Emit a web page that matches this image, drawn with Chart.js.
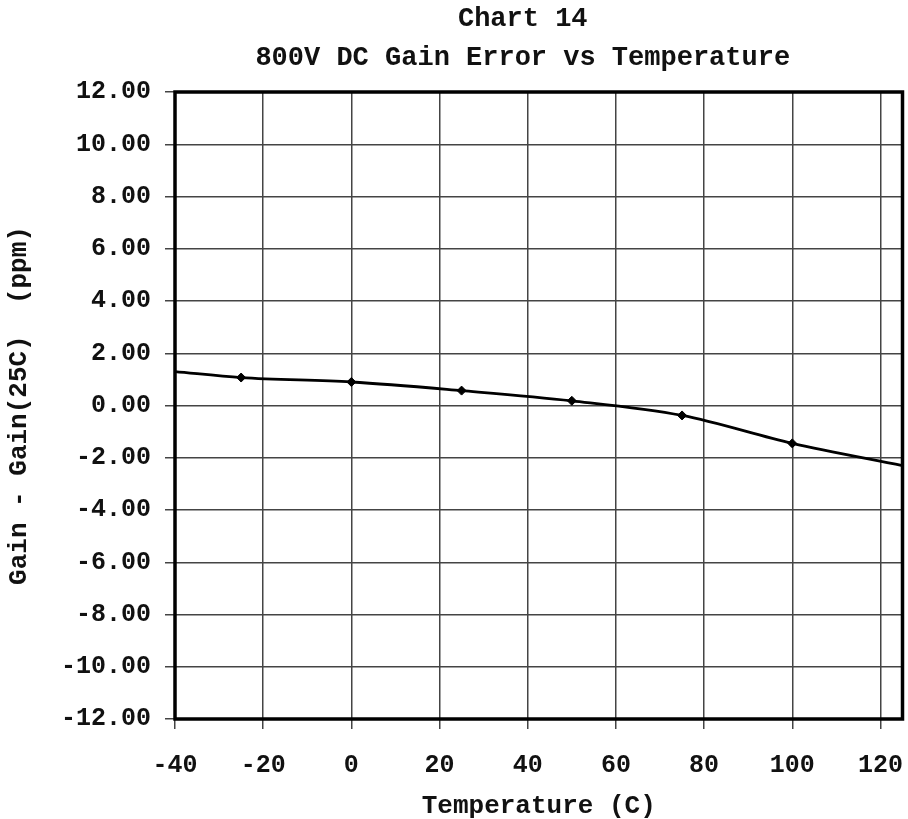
<!DOCTYPE html>
<html>
<head>
<meta charset="utf-8">
<title>Chart 14</title>
<script src="https://cdn.jsdelivr.net/npm/chart.js@4.4.1/dist/chart.umd.min.js"></script>
<style>
  html, body { margin: 0; padding: 0; background: #fff; }
  #wrap { position: relative; width: 908px; height: 819px; }
</style>
</head>
<body>
<div id="wrap"><canvas id="gainChart"></canvas></div>
<script>
// Chart data
const chartTitle = 'Chart 14';
const chartSubtitle = '800V DC Gain Error vs Temperature';

// smoothed curve (runs edge to edge of the plot)
const curveTemps = [-40, -25, 0, 25, 50, 75, 100, 125];
const curveGain = [1.30, 1.07, 0.90, 0.57, 0.18, -0.38, -1.45, -2.30];

// measured points (diamond markers)
const measTemps = [-25, 0, 25, 50, 75, 100];
const measGain = [1.07, 0.90, 0.57, 0.18, -0.38, -1.45];

const xMin = -40, xMax = 125, xStep = 20;
const yMin = -12, yMax = 12, yStep = 2;

const monoFont = "'Liberation Mono', 'Courier New', monospace";

// Titles are drawn over the plot centre, not the canvas centre
const titlePlugin = {
  id: 'titlePlugin',
  afterDraw(chart) {
    const ctx = chart.ctx;
    const cx = (chart.chartArea.left + chart.chartArea.right) / 2 - 16;
    ctx.save();
    ctx.fillStyle = '#111';
    ctx.textAlign = 'center';
    ctx.textBaseline = 'middle';
    ctx.font = "bold 27px " + monoFont;
    ctx.fillText(chartTitle, cx, 19);
    ctx.fillText(chartSubtitle, cx, 58);
    ctx.restore();
  }
};

// Thick frame round the plot area
const framePlugin = {
  id: 'framePlugin',
  afterDatasetsDraw(chart) {
    const a = chart.chartArea;
    const ctx = chart.ctx;
    ctx.save();
    ctx.strokeStyle = '#000';
    ctx.lineWidth = 3.5;
    ctx.strokeRect(a.left, a.top, a.right - a.left, a.bottom - a.top);
    ctx.restore();
  }
};

const ctx = document.getElementById('gainChart').getContext('2d');
new Chart(ctx, {
  type: 'scatter',
  data: {
    datasets: [
      {
        label: 'Curve',
        data: curveTemps.map((t, i) => ({ x: t, y: curveGain[i] })),
        showLine: true,
        borderColor: '#000',
        borderWidth: 2.8,
        pointRadius: 0,
        cubicInterpolationMode: 'monotone',
        fill: false
      },
      {
        label: 'Measured',
        data: measTemps.map((t, i) => ({ x: t, y: measGain[i] })),
        showLine: false,
        pointStyle: 'rectRot',
        pointRadius: 4.5,
        backgroundColor: '#000',
        borderColor: '#000',
        borderWidth: 1
      }
    ]
  },
  options: {
    responsive: true,
    maintainAspectRatio: false,
    animation: false,
    layout: { padding: { top: 92, right: 1, bottom: 0, left: 0 } },
    plugins: {
      legend: { display: false },
      title: { display: false },
      tooltip: { enabled: false }
    },
    scales: {
      x: {
        type: 'linear',
        min: xMin,
        max: xMax,
        afterFit(scale) {
          scale.height = 100;
          scale.paddingLeft = 0;
          scale.paddingRight = 0;
        },
        ticks: {
          stepSize: xStep,
          includeBounds: false,
          padding: 22,
          color: '#111',
          font: { family: monoFont, size: 25, weight: 'bold' }
        },
        grid: { color: '#444', lineWidth: 1.5, tickLength: 10, tickColor: '#444' },
        border: { display: false },
        title: {
          display: true,
          text: 'Temperature (C)',
          color: '#111',
          padding: { top: 0, bottom: 0 },
          font: { family: monoFont, size: 26, weight: 'bold', lineHeight: 1 }
        }
      },
      y: {
        min: yMin,
        max: yMax,
        afterFit(scale) { scale.width = 175; },
        ticks: {
          stepSize: yStep,
          padding: 14,
          color: '#111',
          font: { family: monoFont, size: 25, weight: 'bold' },
          callback: v => Number(v).toFixed(2)
        },
        grid: { color: '#444', lineWidth: 1.5, tickLength: 10, tickColor: '#444' },
        border: { display: false },
        title: {
          display: true,
          text: 'Gain - Gain(25C)  (ppm)',
          color: '#111',
          padding: { top: 4, bottom: 0 },
          font: { family: monoFont, size: 26, weight: 'bold', lineHeight: 1.2 }
        }
      }
    }
  },
  plugins: [titlePlugin, framePlugin]
});
</script>
</body>
</html>
